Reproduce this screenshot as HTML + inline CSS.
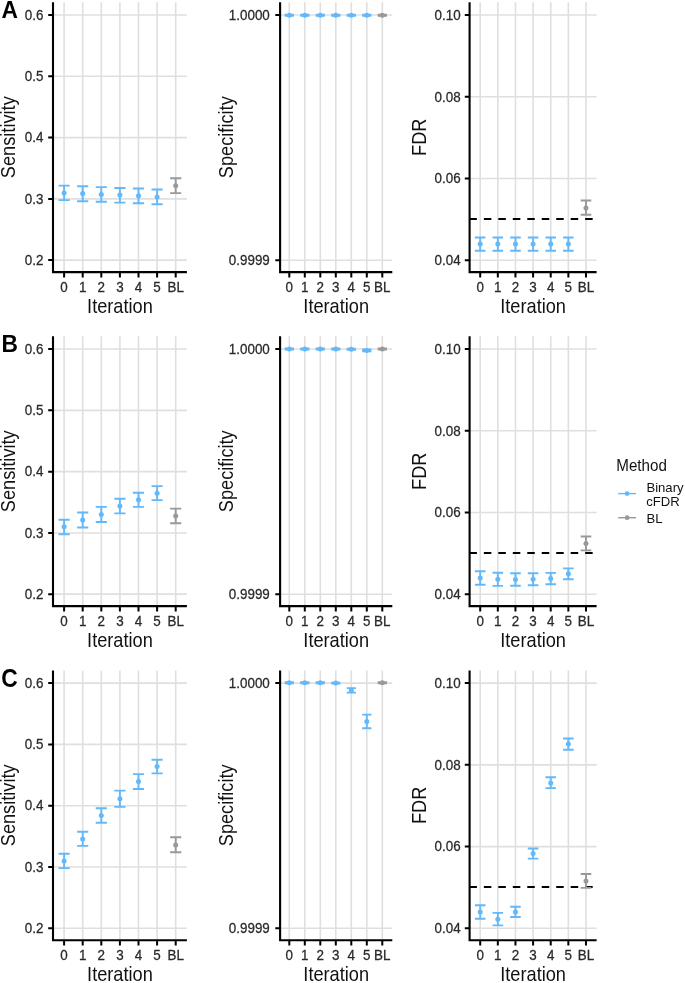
<!DOCTYPE html>
<html><head><meta charset="utf-8"><title>Figure</title>
<style>
html,body{margin:0;padding:0;background:#fff;}
body{width:685px;height:983px;overflow:hidden;}
svg{display:block;filter:blur(0.35px);}
text{font-family:"Liberation Sans",sans-serif;}
.tag{font-size:23.6px;font-weight:bold;fill:#000;}
.yl{font-size:13.4px;fill:#2a2a2a;text-anchor:end;stroke:#2a2a2a;stroke-width:0.25px;}
.xl{font-size:13.4px;fill:#2a2a2a;text-anchor:middle;stroke:#2a2a2a;stroke-width:0.25px;}
.tt{font-size:18.2px;fill:#111111;text-anchor:middle;}
.lt{font-size:15.4px;fill:#111111;}
.lg{font-size:13.0px;fill:#111111;}
</style></head>
<body>
<svg width="685" height="983" viewBox="0 0 685 983">
<rect width="685" height="983" fill="#fff"/>
<text transform="translate(1.5 18.4) scale(0.965 1.0)" class="tag">A</text>
<path d="M53 15H186.9M53 76.3H186.9M53 137.6H186.9M53 198.9H186.9M53 260.1H186.9M64.1 2.3V272.1M82.7 2.3V272.1M101.3 2.3V272.1M119.9 2.3V272.1M138.5 2.3V272.1M157.1 2.3V272.1M175.7 2.3V272.1" stroke="#dfdfdf" stroke-width="1.6" fill="none"/>
<path d="M58.52 185.6H69.68M58.52 200.1H69.68M64.1 185.6V200.1" stroke="#63B8FA" stroke-width="1.9" fill="none"/>
<circle cx="64.1" cy="193.1" r="2.5" fill="#63B8FA"/>
<path d="M77.12 186.3H88.28M77.12 201.2H88.28M82.7 186.3V201.2" stroke="#63B8FA" stroke-width="1.9" fill="none"/>
<circle cx="82.7" cy="193.6" r="2.5" fill="#63B8FA"/>
<path d="M95.72 187.1H106.88M95.72 201.8H106.88M101.3 187.1V201.8" stroke="#63B8FA" stroke-width="1.9" fill="none"/>
<circle cx="101.3" cy="194.4" r="2.5" fill="#63B8FA"/>
<path d="M114.32 188H125.48M114.32 202.6H125.48M119.9 188V202.6" stroke="#63B8FA" stroke-width="1.9" fill="none"/>
<circle cx="119.9" cy="195.1" r="2.5" fill="#63B8FA"/>
<path d="M132.92 188.5H144.08M132.92 203.2H144.08M138.5 188.5V203.2" stroke="#63B8FA" stroke-width="1.9" fill="none"/>
<circle cx="138.5" cy="195.8" r="2.5" fill="#63B8FA"/>
<path d="M151.52 189.5H162.68M151.52 204.2H162.68M157.1 189.5V204.2" stroke="#63B8FA" stroke-width="1.9" fill="none"/>
<circle cx="157.1" cy="197" r="2.5" fill="#63B8FA"/>
<path d="M170.12 178.3H181.28M170.12 193.1H181.28M175.7 178.3V193.1" stroke="#999999" stroke-width="1.9" fill="none"/>
<circle cx="175.7" cy="185.7" r="2.5" fill="#999999"/>
<path d="M53 2.3V273.15M51.95 272.1H186.9" stroke="#000000" stroke-width="2.1" fill="none"/>
<path d="M48.2 15H53M48.2 76.3H53M48.2 137.6H53M48.2 198.9H53M48.2 260.1H53M64.1 272.1V277.4M82.7 272.1V277.4M101.3 272.1V277.4M119.9 272.1V277.4M138.5 272.1V277.4M157.1 272.1V277.4M175.7 272.1V277.4" stroke="#000000" stroke-width="2" fill="none"/>
<text transform="translate(43.4 19.75) scale(1 1.06)" class="yl">0.6</text>
<text transform="translate(43.4 81.05) scale(1 1.06)" class="yl">0.5</text>
<text transform="translate(43.4 142.35) scale(1 1.06)" class="yl">0.4</text>
<text transform="translate(43.4 203.65) scale(1 1.06)" class="yl">0.3</text>
<text transform="translate(43.4 264.85) scale(1 1.06)" class="yl">0.2</text>
<text transform="translate(64.1 291.5) scale(1 1.06)" class="xl">0</text>
<text transform="translate(82.7 291.5) scale(1 1.06)" class="xl">1</text>
<text transform="translate(101.3 291.5) scale(1 1.06)" class="xl">2</text>
<text transform="translate(119.9 291.5) scale(1 1.06)" class="xl">3</text>
<text transform="translate(138.5 291.5) scale(1 1.06)" class="xl">4</text>
<text transform="translate(157.1 291.5) scale(1 1.06)" class="xl">5</text>
<text transform="translate(175.7 291.5) scale(1 1.06)" class="xl">BL</text>
<text transform="translate(119.95 313.2) scale(1 1.065)" class="tt">Iteration</text>
<text transform="translate(15 137.2) rotate(-90) scale(1 1.065)" class="tt">Sensitivity</text>
<path d="M280.1 15H392.3M280.1 260.2H392.3M289.3 2.3V272.1M304.8 2.3V272.1M320.3 2.3V272.1M335.8 2.3V272.1M351.3 2.3V272.1M366.8 2.3V272.1M382.3 2.3V272.1" stroke="#dfdfdf" stroke-width="1.6" fill="none"/>
<path d="M284.65 14.7H293.95M284.65 15.7H293.95M289.3 14.7V15.7" stroke="#63B8FA" stroke-width="1.9" fill="none"/>
<circle cx="289.3" cy="15.2" r="2.5" fill="#63B8FA"/>
<path d="M300.15 14.7H309.45M300.15 15.7H309.45M304.8 14.7V15.7" stroke="#63B8FA" stroke-width="1.9" fill="none"/>
<circle cx="304.8" cy="15.2" r="2.5" fill="#63B8FA"/>
<path d="M315.65 14.7H324.95M315.65 15.7H324.95M320.3 14.7V15.7" stroke="#63B8FA" stroke-width="1.9" fill="none"/>
<circle cx="320.3" cy="15.2" r="2.5" fill="#63B8FA"/>
<path d="M331.15 14.7H340.45M331.15 15.7H340.45M335.8 14.7V15.7" stroke="#63B8FA" stroke-width="1.9" fill="none"/>
<circle cx="335.8" cy="15.2" r="2.5" fill="#63B8FA"/>
<path d="M346.65 14.7H355.95M346.65 15.7H355.95M351.3 14.7V15.7" stroke="#63B8FA" stroke-width="1.9" fill="none"/>
<circle cx="351.3" cy="15.2" r="2.5" fill="#63B8FA"/>
<path d="M362.15 14.7H371.45M362.15 15.7H371.45M366.8 14.7V15.7" stroke="#63B8FA" stroke-width="1.9" fill="none"/>
<circle cx="366.8" cy="15.2" r="2.5" fill="#63B8FA"/>
<path d="M377.65 14.7H386.95M377.65 15.7H386.95M382.3 14.7V15.7" stroke="#999999" stroke-width="1.9" fill="none"/>
<circle cx="382.3" cy="15.2" r="2.5" fill="#999999"/>
<path d="M280.1 2.3V273.15M279.05 272.1H392.3" stroke="#000000" stroke-width="2.1" fill="none"/>
<path d="M275.3 15H280.1M275.3 260.2H280.1M289.3 272.1V277.4M304.8 272.1V277.4M320.3 272.1V277.4M335.8 272.1V277.4M351.3 272.1V277.4M366.8 272.1V277.4M382.3 272.1V277.4" stroke="#000000" stroke-width="2" fill="none"/>
<text transform="translate(269.8 19.75) scale(1 1.06)" class="yl">1.0000</text>
<text transform="translate(269.8 264.95) scale(1 1.06)" class="yl">0.9999</text>
<text transform="translate(289.3 291.5) scale(1 1.06)" class="xl">0</text>
<text transform="translate(304.8 291.5) scale(1 1.06)" class="xl">1</text>
<text transform="translate(320.3 291.5) scale(1 1.06)" class="xl">2</text>
<text transform="translate(335.8 291.5) scale(1 1.06)" class="xl">3</text>
<text transform="translate(351.3 291.5) scale(1 1.06)" class="xl">4</text>
<text transform="translate(366.8 291.5) scale(1 1.06)" class="xl">5</text>
<text transform="translate(382.3 291.5) scale(1 1.06)" class="xl">BL</text>
<text transform="translate(336.2 313.2) scale(1 1.065)" class="tt">Iteration</text>
<text transform="translate(232.6 137.2) rotate(-90) scale(1 1.065)" class="tt">Specificity</text>
<path d="M469.6 15H596.6M469.6 96.75H596.6M469.6 178.5H596.6M469.6 260.2H596.6M480.2 2.3V272.1M497.83 2.3V272.1M515.46 2.3V272.1M533.09 2.3V272.1M550.72 2.3V272.1M568.35 2.3V272.1M585.98 2.3V272.1" stroke="#dfdfdf" stroke-width="1.6" fill="none"/>
<path d="M469.4 219H596.6" stroke="#000" stroke-width="2" stroke-dasharray="7.5 6.97" fill="none"/>
<path d="M474.91 237.5H485.49M474.91 250.8H485.49M480.2 237.5V250.8" stroke="#63B8FA" stroke-width="1.9" fill="none"/>
<circle cx="480.2" cy="244" r="2.5" fill="#63B8FA"/>
<path d="M492.54 237.5H503.12M492.54 250.8H503.12M497.83 237.5V250.8" stroke="#63B8FA" stroke-width="1.9" fill="none"/>
<circle cx="497.83" cy="244" r="2.5" fill="#63B8FA"/>
<path d="M510.17 237.5H520.75M510.17 250.8H520.75M515.46 237.5V250.8" stroke="#63B8FA" stroke-width="1.9" fill="none"/>
<circle cx="515.46" cy="244" r="2.5" fill="#63B8FA"/>
<path d="M527.8 237.5H538.38M527.8 250.8H538.38M533.09 237.5V250.8" stroke="#63B8FA" stroke-width="1.9" fill="none"/>
<circle cx="533.09" cy="244" r="2.5" fill="#63B8FA"/>
<path d="M545.43 237.5H556.01M545.43 250.8H556.01M550.72 237.5V250.8" stroke="#63B8FA" stroke-width="1.9" fill="none"/>
<circle cx="550.72" cy="244" r="2.5" fill="#63B8FA"/>
<path d="M563.06 237.5H573.64M563.06 250.8H573.64M568.35 237.5V250.8" stroke="#63B8FA" stroke-width="1.9" fill="none"/>
<circle cx="568.35" cy="244" r="2.5" fill="#63B8FA"/>
<path d="M580.69 200.5H591.27M580.69 214.8H591.27M585.98 200.5V214.8" stroke="#999999" stroke-width="1.9" fill="none"/>
<circle cx="585.98" cy="207.9" r="2.5" fill="#999999"/>
<path d="M469.6 2.3V273.15M468.55 272.1H596.6" stroke="#000000" stroke-width="2.1" fill="none"/>
<path d="M464.8 15H469.6M464.8 96.75H469.6M464.8 178.5H469.6M464.8 260.2H469.6M480.2 272.1V277.4M497.83 272.1V277.4M515.46 272.1V277.4M533.09 272.1V277.4M550.72 272.1V277.4M568.35 272.1V277.4M585.98 272.1V277.4" stroke="#000000" stroke-width="2" fill="none"/>
<text transform="translate(460.6 19.75) scale(1 1.06)" class="yl">0.10</text>
<text transform="translate(460.6 101.5) scale(1 1.06)" class="yl">0.08</text>
<text transform="translate(460.6 183.25) scale(1 1.06)" class="yl">0.06</text>
<text transform="translate(460.6 264.95) scale(1 1.06)" class="yl">0.04</text>
<text transform="translate(480.2 291.5) scale(1 1.06)" class="xl">0</text>
<text transform="translate(497.83 291.5) scale(1 1.06)" class="xl">1</text>
<text transform="translate(515.46 291.5) scale(1 1.06)" class="xl">2</text>
<text transform="translate(533.09 291.5) scale(1 1.06)" class="xl">3</text>
<text transform="translate(550.72 291.5) scale(1 1.06)" class="xl">4</text>
<text transform="translate(568.35 291.5) scale(1 1.06)" class="xl">5</text>
<text transform="translate(585.98 291.5) scale(1 1.06)" class="xl">BL</text>
<text transform="translate(533.1 313.2) scale(1 1.065)" class="tt">Iteration</text>
<text transform="translate(425.8 137.2) rotate(-90) scale(1 1.065)" class="tt">FDR</text>
<text transform="translate(1.5 351.6) scale(0.965 1.03)" class="tag">B</text>
<path d="M53 349.05H186.9M53 410.35H186.9M53 471.65H186.9M53 532.95H186.9M53 594.15H186.9M64.1 336.35V606.15M82.7 336.35V606.15M101.3 336.35V606.15M119.9 336.35V606.15M138.5 336.35V606.15M157.1 336.35V606.15M175.7 336.35V606.15" stroke="#dfdfdf" stroke-width="1.6" fill="none"/>
<path d="M58.52 519.8H69.68M58.52 534.3H69.68M64.1 519.8V534.3" stroke="#63B8FA" stroke-width="1.9" fill="none"/>
<circle cx="64.1" cy="526.8" r="2.5" fill="#63B8FA"/>
<path d="M77.12 512.5H88.28M77.12 527.5H88.28M82.7 512.5V527.5" stroke="#63B8FA" stroke-width="1.9" fill="none"/>
<circle cx="82.7" cy="520" r="2.5" fill="#63B8FA"/>
<path d="M95.72 506.9H106.88M95.72 522H106.88M101.3 506.9V522" stroke="#63B8FA" stroke-width="1.9" fill="none"/>
<circle cx="101.3" cy="514.4" r="2.5" fill="#63B8FA"/>
<path d="M114.32 498.7H125.48M114.32 513.4H125.48M119.9 498.7V513.4" stroke="#63B8FA" stroke-width="1.9" fill="none"/>
<circle cx="119.9" cy="505.9" r="2.5" fill="#63B8FA"/>
<path d="M132.92 492.7H144.08M132.92 506.9H144.08M138.5 492.7V506.9" stroke="#63B8FA" stroke-width="1.9" fill="none"/>
<circle cx="138.5" cy="499.8" r="2.5" fill="#63B8FA"/>
<path d="M151.52 486.1H162.68M151.52 500.1H162.68M157.1 486.1V500.1" stroke="#63B8FA" stroke-width="1.9" fill="none"/>
<circle cx="157.1" cy="493.2" r="2.5" fill="#63B8FA"/>
<path d="M170.12 508.6H181.28M170.12 523.3H181.28M175.7 508.6V523.3" stroke="#999999" stroke-width="1.9" fill="none"/>
<circle cx="175.7" cy="516.1" r="2.5" fill="#999999"/>
<path d="M53 336.35V607.2M51.95 606.15H186.9" stroke="#000000" stroke-width="2.1" fill="none"/>
<path d="M48.2 349.05H53M48.2 410.35H53M48.2 471.65H53M48.2 532.95H53M48.2 594.15H53M64.1 606.15V611.45M82.7 606.15V611.45M101.3 606.15V611.45M119.9 606.15V611.45M138.5 606.15V611.45M157.1 606.15V611.45M175.7 606.15V611.45" stroke="#000000" stroke-width="2" fill="none"/>
<text transform="translate(43.4 353.8) scale(1 1.06)" class="yl">0.6</text>
<text transform="translate(43.4 415.1) scale(1 1.06)" class="yl">0.5</text>
<text transform="translate(43.4 476.4) scale(1 1.06)" class="yl">0.4</text>
<text transform="translate(43.4 537.7) scale(1 1.06)" class="yl">0.3</text>
<text transform="translate(43.4 598.9) scale(1 1.06)" class="yl">0.2</text>
<text transform="translate(64.1 625.55) scale(1 1.06)" class="xl">0</text>
<text transform="translate(82.7 625.55) scale(1 1.06)" class="xl">1</text>
<text transform="translate(101.3 625.55) scale(1 1.06)" class="xl">2</text>
<text transform="translate(119.9 625.55) scale(1 1.06)" class="xl">3</text>
<text transform="translate(138.5 625.55) scale(1 1.06)" class="xl">4</text>
<text transform="translate(157.1 625.55) scale(1 1.06)" class="xl">5</text>
<text transform="translate(175.7 625.55) scale(1 1.06)" class="xl">BL</text>
<text transform="translate(119.95 647.25) scale(1 1.065)" class="tt">Iteration</text>
<text transform="translate(15 471.25) rotate(-90) scale(1 1.065)" class="tt">Sensitivity</text>
<path d="M280.1 349.05H392.3M280.1 594.25H392.3M289.3 336.35V606.15M304.8 336.35V606.15M320.3 336.35V606.15M335.8 336.35V606.15M351.3 336.35V606.15M366.8 336.35V606.15M382.3 336.35V606.15" stroke="#dfdfdf" stroke-width="1.6" fill="none"/>
<path d="M284.65 348.5H293.95M284.65 349.5H293.95M289.3 348.5V349.5" stroke="#63B8FA" stroke-width="1.9" fill="none"/>
<circle cx="289.3" cy="349" r="2.5" fill="#63B8FA"/>
<path d="M300.15 348.5H309.45M300.15 349.5H309.45M304.8 348.5V349.5" stroke="#63B8FA" stroke-width="1.9" fill="none"/>
<circle cx="304.8" cy="349" r="2.5" fill="#63B8FA"/>
<path d="M315.65 348.5H324.95M315.65 349.5H324.95M320.3 348.5V349.5" stroke="#63B8FA" stroke-width="1.9" fill="none"/>
<circle cx="320.3" cy="349" r="2.5" fill="#63B8FA"/>
<path d="M331.15 348.5H340.45M331.15 349.5H340.45M335.8 348.5V349.5" stroke="#63B8FA" stroke-width="1.9" fill="none"/>
<circle cx="335.8" cy="349" r="2.5" fill="#63B8FA"/>
<path d="M346.65 348.6H355.95M346.65 349.9H355.95M351.3 348.6V349.9" stroke="#63B8FA" stroke-width="1.9" fill="none"/>
<circle cx="351.3" cy="349.25" r="2.5" fill="#63B8FA"/>
<path d="M362.15 349.5H371.45M362.15 351.3H371.45M366.8 349.5V351.3" stroke="#63B8FA" stroke-width="1.9" fill="none"/>
<circle cx="366.8" cy="350.4" r="2.5" fill="#63B8FA"/>
<path d="M377.65 348.5H386.95M377.65 349.5H386.95M382.3 348.5V349.5" stroke="#999999" stroke-width="1.9" fill="none"/>
<circle cx="382.3" cy="349" r="2.5" fill="#999999"/>
<path d="M280.1 336.35V607.2M279.05 606.15H392.3" stroke="#000000" stroke-width="2.1" fill="none"/>
<path d="M275.3 349.05H280.1M275.3 594.25H280.1M289.3 606.15V611.45M304.8 606.15V611.45M320.3 606.15V611.45M335.8 606.15V611.45M351.3 606.15V611.45M366.8 606.15V611.45M382.3 606.15V611.45" stroke="#000000" stroke-width="2" fill="none"/>
<text transform="translate(269.8 353.8) scale(1 1.06)" class="yl">1.0000</text>
<text transform="translate(269.8 599) scale(1 1.06)" class="yl">0.9999</text>
<text transform="translate(289.3 625.55) scale(1 1.06)" class="xl">0</text>
<text transform="translate(304.8 625.55) scale(1 1.06)" class="xl">1</text>
<text transform="translate(320.3 625.55) scale(1 1.06)" class="xl">2</text>
<text transform="translate(335.8 625.55) scale(1 1.06)" class="xl">3</text>
<text transform="translate(351.3 625.55) scale(1 1.06)" class="xl">4</text>
<text transform="translate(366.8 625.55) scale(1 1.06)" class="xl">5</text>
<text transform="translate(382.3 625.55) scale(1 1.06)" class="xl">BL</text>
<text transform="translate(336.2 647.25) scale(1 1.065)" class="tt">Iteration</text>
<text transform="translate(232.6 471.25) rotate(-90) scale(1 1.065)" class="tt">Specificity</text>
<path d="M469.6 349.05H596.6M469.6 430.8H596.6M469.6 512.55H596.6M469.6 594.25H596.6M480.2 336.35V606.15M497.83 336.35V606.15M515.46 336.35V606.15M533.09 336.35V606.15M550.72 336.35V606.15M568.35 336.35V606.15M585.98 336.35V606.15" stroke="#dfdfdf" stroke-width="1.6" fill="none"/>
<path d="M469.4 553.05H596.6" stroke="#000" stroke-width="2" stroke-dasharray="7.5 6.97" fill="none"/>
<path d="M474.91 571.2H485.49M474.91 584.7H485.49M480.2 571.2V584.7" stroke="#63B8FA" stroke-width="1.9" fill="none"/>
<circle cx="480.2" cy="578.1" r="2.5" fill="#63B8FA"/>
<path d="M492.54 572.8H503.12M492.54 585.9H503.12M497.83 572.8V585.9" stroke="#63B8FA" stroke-width="1.9" fill="none"/>
<circle cx="497.83" cy="579.2" r="2.5" fill="#63B8FA"/>
<path d="M510.17 573.3H520.75M510.17 585.8H520.75M515.46 573.3V585.8" stroke="#63B8FA" stroke-width="1.9" fill="none"/>
<circle cx="515.46" cy="579.4" r="2.5" fill="#63B8FA"/>
<path d="M527.8 573.3H538.38M527.8 585.2H538.38M533.09 573.3V585.2" stroke="#63B8FA" stroke-width="1.9" fill="none"/>
<circle cx="533.09" cy="579.2" r="2.5" fill="#63B8FA"/>
<path d="M545.43 572.9H556.01M545.43 584.3H556.01M550.72 572.9V584.3" stroke="#63B8FA" stroke-width="1.9" fill="none"/>
<circle cx="550.72" cy="578.6" r="2.5" fill="#63B8FA"/>
<path d="M563.06 568.4H573.64M563.06 579.3H573.64M568.35 568.4V579.3" stroke="#63B8FA" stroke-width="1.9" fill="none"/>
<circle cx="568.35" cy="573.8" r="2.5" fill="#63B8FA"/>
<path d="M580.69 536.5H591.27M580.69 550.4H591.27M585.98 536.5V550.4" stroke="#999999" stroke-width="1.9" fill="none"/>
<circle cx="585.98" cy="543.6" r="2.5" fill="#999999"/>
<path d="M469.6 336.35V607.2M468.55 606.15H596.6" stroke="#000000" stroke-width="2.1" fill="none"/>
<path d="M464.8 349.05H469.6M464.8 430.8H469.6M464.8 512.55H469.6M464.8 594.25H469.6M480.2 606.15V611.45M497.83 606.15V611.45M515.46 606.15V611.45M533.09 606.15V611.45M550.72 606.15V611.45M568.35 606.15V611.45M585.98 606.15V611.45" stroke="#000000" stroke-width="2" fill="none"/>
<text transform="translate(460.6 353.8) scale(1 1.06)" class="yl">0.10</text>
<text transform="translate(460.6 435.55) scale(1 1.06)" class="yl">0.08</text>
<text transform="translate(460.6 517.3) scale(1 1.06)" class="yl">0.06</text>
<text transform="translate(460.6 599) scale(1 1.06)" class="yl">0.04</text>
<text transform="translate(480.2 625.55) scale(1 1.06)" class="xl">0</text>
<text transform="translate(497.83 625.55) scale(1 1.06)" class="xl">1</text>
<text transform="translate(515.46 625.55) scale(1 1.06)" class="xl">2</text>
<text transform="translate(533.09 625.55) scale(1 1.06)" class="xl">3</text>
<text transform="translate(550.72 625.55) scale(1 1.06)" class="xl">4</text>
<text transform="translate(568.35 625.55) scale(1 1.06)" class="xl">5</text>
<text transform="translate(585.98 625.55) scale(1 1.06)" class="xl">BL</text>
<text transform="translate(533.1 647.25) scale(1 1.065)" class="tt">Iteration</text>
<text transform="translate(425.8 471.25) rotate(-90) scale(1 1.065)" class="tt">FDR</text>
<text transform="translate(1.2 687.1) scale(0.965 1.1)" class="tag">C</text>
<path d="M53 683.1H186.9M53 744.4H186.9M53 805.7H186.9M53 867H186.9M53 928.2H186.9M64.1 670.4V940.2M82.7 670.4V940.2M101.3 670.4V940.2M119.9 670.4V940.2M138.5 670.4V940.2M157.1 670.4V940.2M175.7 670.4V940.2" stroke="#dfdfdf" stroke-width="1.6" fill="none"/>
<path d="M58.52 853.8H69.68M58.52 868.1H69.68M64.1 853.8V868.1" stroke="#63B8FA" stroke-width="1.9" fill="none"/>
<circle cx="64.1" cy="861.1" r="2.5" fill="#63B8FA"/>
<path d="M77.12 831.7H88.28M77.12 845.9H88.28M82.7 831.7V845.9" stroke="#63B8FA" stroke-width="1.9" fill="none"/>
<circle cx="82.7" cy="838.9" r="2.5" fill="#63B8FA"/>
<path d="M95.72 808.2H106.88M95.72 822.7H106.88M101.3 808.2V822.7" stroke="#63B8FA" stroke-width="1.9" fill="none"/>
<circle cx="101.3" cy="815.5" r="2.5" fill="#63B8FA"/>
<path d="M114.32 790.6H125.48M114.32 806.9H125.48M119.9 790.6V806.9" stroke="#63B8FA" stroke-width="1.9" fill="none"/>
<circle cx="119.9" cy="798.7" r="2.5" fill="#63B8FA"/>
<path d="M132.92 774.1H144.08M132.92 789H144.08M138.5 774.1V789" stroke="#63B8FA" stroke-width="1.9" fill="none"/>
<circle cx="138.5" cy="781.5" r="2.5" fill="#63B8FA"/>
<path d="M151.52 759.7H162.68M151.52 773.4H162.68M157.1 759.7V773.4" stroke="#63B8FA" stroke-width="1.9" fill="none"/>
<circle cx="157.1" cy="766.5" r="2.5" fill="#63B8FA"/>
<path d="M170.12 837.3H181.28M170.12 852.2H181.28M175.7 837.3V852.2" stroke="#999999" stroke-width="1.9" fill="none"/>
<circle cx="175.7" cy="845" r="2.5" fill="#999999"/>
<path d="M53 670.4V941.25M51.95 940.2H186.9" stroke="#000000" stroke-width="2.1" fill="none"/>
<path d="M48.2 683.1H53M48.2 744.4H53M48.2 805.7H53M48.2 867H53M48.2 928.2H53M64.1 940.2V945.5M82.7 940.2V945.5M101.3 940.2V945.5M119.9 940.2V945.5M138.5 940.2V945.5M157.1 940.2V945.5M175.7 940.2V945.5" stroke="#000000" stroke-width="2" fill="none"/>
<text transform="translate(43.4 687.85) scale(1 1.06)" class="yl">0.6</text>
<text transform="translate(43.4 749.15) scale(1 1.06)" class="yl">0.5</text>
<text transform="translate(43.4 810.45) scale(1 1.06)" class="yl">0.4</text>
<text transform="translate(43.4 871.75) scale(1 1.06)" class="yl">0.3</text>
<text transform="translate(43.4 932.95) scale(1 1.06)" class="yl">0.2</text>
<text transform="translate(64.1 959.6) scale(1 1.06)" class="xl">0</text>
<text transform="translate(82.7 959.6) scale(1 1.06)" class="xl">1</text>
<text transform="translate(101.3 959.6) scale(1 1.06)" class="xl">2</text>
<text transform="translate(119.9 959.6) scale(1 1.06)" class="xl">3</text>
<text transform="translate(138.5 959.6) scale(1 1.06)" class="xl">4</text>
<text transform="translate(157.1 959.6) scale(1 1.06)" class="xl">5</text>
<text transform="translate(175.7 959.6) scale(1 1.06)" class="xl">BL</text>
<text transform="translate(119.95 981.3) scale(1 1.065)" class="tt">Iteration</text>
<text transform="translate(15 805.3) rotate(-90) scale(1 1.065)" class="tt">Sensitivity</text>
<path d="M280.1 683.1H392.3M280.1 928.3H392.3M289.3 670.4V940.2M304.8 670.4V940.2M320.3 670.4V940.2M335.8 670.4V940.2M351.3 670.4V940.2M366.8 670.4V940.2M382.3 670.4V940.2" stroke="#dfdfdf" stroke-width="1.6" fill="none"/>
<path d="M284.65 682.3H293.95M284.65 683.3H293.95M289.3 682.3V683.3" stroke="#63B8FA" stroke-width="1.9" fill="none"/>
<circle cx="289.3" cy="682.8" r="2.5" fill="#63B8FA"/>
<path d="M300.15 682.3H309.45M300.15 683.3H309.45M304.8 682.3V683.3" stroke="#63B8FA" stroke-width="1.9" fill="none"/>
<circle cx="304.8" cy="682.8" r="2.5" fill="#63B8FA"/>
<path d="M315.65 682.3H324.95M315.65 683.3H324.95M320.3 682.3V683.3" stroke="#63B8FA" stroke-width="1.9" fill="none"/>
<circle cx="320.3" cy="682.8" r="2.5" fill="#63B8FA"/>
<path d="M331.15 682.6H340.45M331.15 683.6H340.45M335.8 682.6V683.6" stroke="#63B8FA" stroke-width="1.9" fill="none"/>
<circle cx="335.8" cy="683.1" r="2.5" fill="#63B8FA"/>
<path d="M346.65 688.1H355.95M346.65 692.6H355.95M351.3 688.1V692.6" stroke="#63B8FA" stroke-width="1.9" fill="none"/>
<circle cx="351.3" cy="690.4" r="2.5" fill="#63B8FA"/>
<path d="M362.15 714.6H371.45M362.15 728.2H371.45M366.8 714.6V728.2" stroke="#63B8FA" stroke-width="1.9" fill="none"/>
<circle cx="366.8" cy="721.4" r="2.5" fill="#63B8FA"/>
<path d="M377.65 682.2H386.95M377.65 683.2H386.95M382.3 682.2V683.2" stroke="#999999" stroke-width="1.9" fill="none"/>
<circle cx="382.3" cy="682.7" r="2.5" fill="#999999"/>
<path d="M280.1 670.4V941.25M279.05 940.2H392.3" stroke="#000000" stroke-width="2.1" fill="none"/>
<path d="M275.3 683.1H280.1M275.3 928.3H280.1M289.3 940.2V945.5M304.8 940.2V945.5M320.3 940.2V945.5M335.8 940.2V945.5M351.3 940.2V945.5M366.8 940.2V945.5M382.3 940.2V945.5" stroke="#000000" stroke-width="2" fill="none"/>
<text transform="translate(269.8 687.85) scale(1 1.06)" class="yl">1.0000</text>
<text transform="translate(269.8 933.05) scale(1 1.06)" class="yl">0.9999</text>
<text transform="translate(289.3 959.6) scale(1 1.06)" class="xl">0</text>
<text transform="translate(304.8 959.6) scale(1 1.06)" class="xl">1</text>
<text transform="translate(320.3 959.6) scale(1 1.06)" class="xl">2</text>
<text transform="translate(335.8 959.6) scale(1 1.06)" class="xl">3</text>
<text transform="translate(351.3 959.6) scale(1 1.06)" class="xl">4</text>
<text transform="translate(366.8 959.6) scale(1 1.06)" class="xl">5</text>
<text transform="translate(382.3 959.6) scale(1 1.06)" class="xl">BL</text>
<text transform="translate(336.2 981.3) scale(1 1.065)" class="tt">Iteration</text>
<text transform="translate(232.6 805.3) rotate(-90) scale(1 1.065)" class="tt">Specificity</text>
<path d="M469.6 683.1H596.6M469.6 764.85H596.6M469.6 846.6H596.6M469.6 928.3H596.6M480.2 670.4V940.2M497.83 670.4V940.2M515.46 670.4V940.2M533.09 670.4V940.2M550.72 670.4V940.2M568.35 670.4V940.2M585.98 670.4V940.2" stroke="#dfdfdf" stroke-width="1.6" fill="none"/>
<path d="M469.4 887.1H596.6" stroke="#000" stroke-width="2" stroke-dasharray="7.5 6.97" fill="none"/>
<path d="M474.91 905.3H485.49M474.91 918.8H485.49M480.2 905.3V918.8" stroke="#63B8FA" stroke-width="1.9" fill="none"/>
<circle cx="480.2" cy="912.1" r="2.5" fill="#63B8FA"/>
<path d="M492.54 912.9H503.12M492.54 925.4H503.12M497.83 912.9V925.4" stroke="#63B8FA" stroke-width="1.9" fill="none"/>
<circle cx="497.83" cy="919.3" r="2.5" fill="#63B8FA"/>
<path d="M510.17 906.8H520.75M510.17 917H520.75M515.46 906.8V917" stroke="#63B8FA" stroke-width="1.9" fill="none"/>
<circle cx="515.46" cy="911.9" r="2.5" fill="#63B8FA"/>
<path d="M527.8 848.5H538.38M527.8 858.6H538.38M533.09 848.5V858.6" stroke="#63B8FA" stroke-width="1.9" fill="none"/>
<circle cx="533.09" cy="853.6" r="2.5" fill="#63B8FA"/>
<path d="M545.43 777.3H556.01M545.43 788.1H556.01M550.72 777.3V788.1" stroke="#63B8FA" stroke-width="1.9" fill="none"/>
<circle cx="550.72" cy="783" r="2.5" fill="#63B8FA"/>
<path d="M563.06 738.5H573.64M563.06 749.7H573.64M568.35 738.5V749.7" stroke="#63B8FA" stroke-width="1.9" fill="none"/>
<circle cx="568.35" cy="744" r="2.5" fill="#63B8FA"/>
<path d="M580.69 874H591.27M580.69 887.9H591.27M585.98 874V887.9" stroke="#999999" stroke-width="1.9" fill="none"/>
<circle cx="585.98" cy="881.1" r="2.5" fill="#999999"/>
<path d="M469.6 670.4V941.25M468.55 940.2H596.6" stroke="#000000" stroke-width="2.1" fill="none"/>
<path d="M464.8 683.1H469.6M464.8 764.85H469.6M464.8 846.6H469.6M464.8 928.3H469.6M480.2 940.2V945.5M497.83 940.2V945.5M515.46 940.2V945.5M533.09 940.2V945.5M550.72 940.2V945.5M568.35 940.2V945.5M585.98 940.2V945.5" stroke="#000000" stroke-width="2" fill="none"/>
<text transform="translate(460.6 687.85) scale(1 1.06)" class="yl">0.10</text>
<text transform="translate(460.6 769.6) scale(1 1.06)" class="yl">0.08</text>
<text transform="translate(460.6 851.35) scale(1 1.06)" class="yl">0.06</text>
<text transform="translate(460.6 933.05) scale(1 1.06)" class="yl">0.04</text>
<text transform="translate(480.2 959.6) scale(1 1.06)" class="xl">0</text>
<text transform="translate(497.83 959.6) scale(1 1.06)" class="xl">1</text>
<text transform="translate(515.46 959.6) scale(1 1.06)" class="xl">2</text>
<text transform="translate(533.09 959.6) scale(1 1.06)" class="xl">3</text>
<text transform="translate(550.72 959.6) scale(1 1.06)" class="xl">4</text>
<text transform="translate(568.35 959.6) scale(1 1.06)" class="xl">5</text>
<text transform="translate(585.98 959.6) scale(1 1.06)" class="xl">BL</text>
<text transform="translate(533.1 981.3) scale(1 1.065)" class="tt">Iteration</text>
<text transform="translate(425.8 805.3) rotate(-90) scale(1 1.065)" class="tt">FDR</text>
<text transform="translate(616.3 470.9) scale(0.985 1.06)" class="lt">Method</text>
<path d="M618.2 493.6H636.1" stroke="#63B8FA" stroke-width="1.4"/>
<circle cx="627.1" cy="493.6" r="2.4" fill="#63B8FA"/>
<path d="M618.2 517.7H636.1" stroke="#999999" stroke-width="1.4"/>
<circle cx="627.1" cy="517.7" r="2.4" fill="#999999"/>
<text transform="translate(646.4 491.6) scale(1.01 1.05)" class="lg">Binary</text>
<text transform="translate(646.2 505.8) scale(1.01 1.05)" class="lg">cFDR</text>
<text transform="translate(646.4 522.8) scale(1.01 1.05)" class="lg">BL</text>
</svg>
</body></html>
